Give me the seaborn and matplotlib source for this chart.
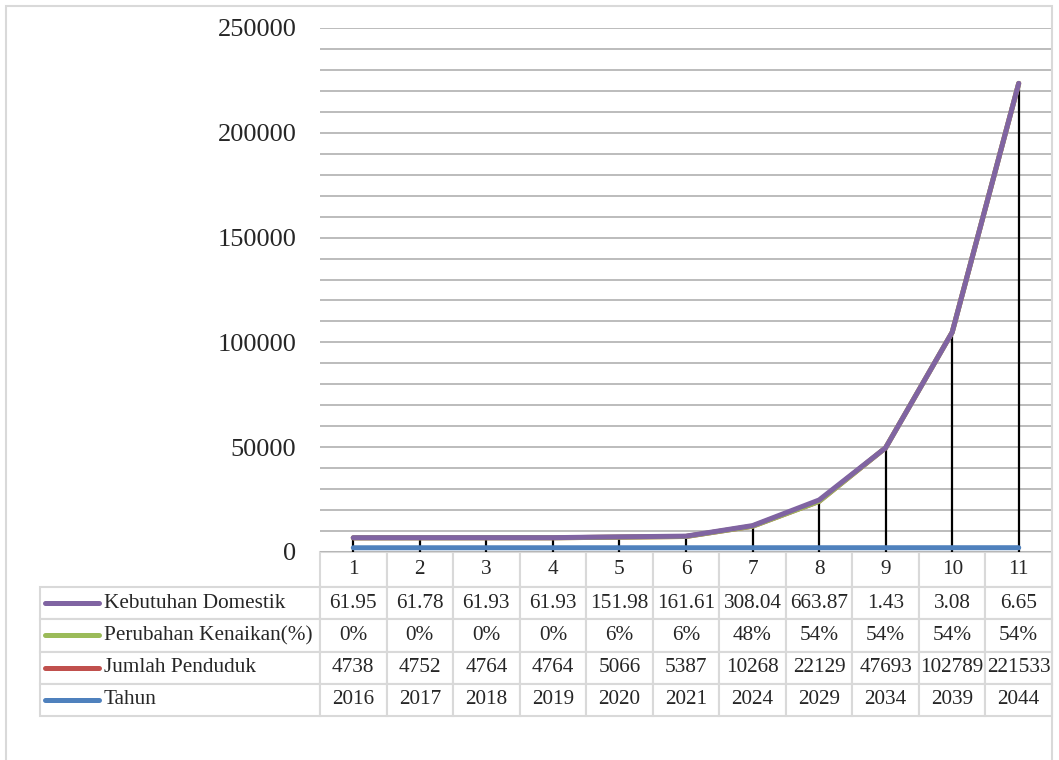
import numpy as np
import pandas as pd
import seaborn as sns
import matplotlib
matplotlib.use('Agg')
import matplotlib.pyplot as plt
from matplotlib.lines import Line2D
from matplotlib.patches import Rectangle

categories = [1, 2, 3, 4, 5, 6, 7, 8, 9, 10, 11]
tahun = [2016, 2017, 2018, 2019, 2020, 2021, 2024, 2029, 2034, 2039, 2044]
jumlah_penduduk = [4738, 4752, 4764, 4764, 5066, 5387, 10268, 22129, 47693, 102789, 221533]
perubahan = [0.0, 0.0, 0.0, 0.0, 0.06, 0.06, 0.48, 0.54, 0.54, 0.54, 0.54]
kebutuhan = [61.95, 61.78, 61.93, 61.93, 151.98, 161.61, 308.04, 663.87, 1.43, 3.08, 6.65]

perubahan_txt = ['0%', '0%', '0%', '0%', '6%', '6%', '48%', '54%', '54%', '54%', '54%']
kebutuhan_txt = ['61.95', '61.78', '61.93', '61.93', '151.98', '161.61', '308.04', '663.87', '1.43', '3.08', '6.65']

series_names = ['Tahun', 'Jumlah Penduduk', 'Perubahan Kenaikan(%)', 'Kebutuhan Domestik']
colors = {'Tahun': '#4F81BD', 'Jumlah Penduduk': '#C0504D',
          'Perubahan Kenaikan(%)': '#9BBB59', 'Kebutuhan Domestik': '#8064A2'}

sns.set_style('white')
plt.rcParams['font.family'] = ['Liberation Serif', 'DejaVu Serif']

# stacked line chart (like excel)
raw = np.array([tahun, jumlah_penduduk, perubahan, kebutuhan], dtype=float)
stacked = np.cumsum(raw, axis=0)
df = pd.DataFrame({
    'pos': categories * 4,
    'value': stacked.ravel(),
    'series': np.repeat(series_names, len(categories)),
})

fig = plt.figure(figsize=(10.59, 7.6), dpi=100)
ax = fig.add_axes([320 / 1059, 1 - 552 / 760, 732 / 1059, 524 / 760])

ax.set_ylim(0, 250000)
ax.set_xlim(0.5, 11.5)
ax.set_yticks(np.arange(0, 250001, 10000), minor=True)
ax.set_yticks(np.arange(0, 250001, 50000))
ax.set_yticklabels([str(v) for v in range(0, 250001, 50000)], fontsize=19)
ax.grid(axis='y', which='both', color='#b0b0b0', lw=1.2)
ax.set_axisbelow(True)
ax.set_xticks([])
ax.tick_params(axis='y', which='both', length=0, pad=17)
for s in ax.spines.values():
    s.set_visible(False)

ax.vlines(categories, 0, stacked[-1], color='black', lw=1.6, zorder=2)
sns.lineplot(data=df, x='pos', y='value', hue='series', hue_order=series_names,
             palette=colors, lw=3.6, legend=False, ax=ax, zorder=3)
ax.set_xlabel('')
ax.set_ylabel('')

# data table under the plot
row_labels = ['Kebutuhan Domestik', 'Perubahan Kenaikan(%)', 'Jumlah Penduduk', 'Tahun']
row_values = [kebutuhan_txt, perubahan_txt, [str(v) for v in jumlah_penduduk], [str(v) for v in tahun]]
cell_text = [[lab] + vals for lab, vals in zip(row_labels, row_values)]
col_labels = [''] + [str(c) for c in categories]

lab_w = 280 / 732
col_w = 1 / 11
tab_h = 164 / 524
head_h = 35 / 524
row_h = (tab_h - head_h) / 4
tbl = ax.table(cellText=cell_text, colLabels=col_labels,
               colWidths=[lab_w] + [col_w] * 11, cellLoc='center',
               bbox=[-lab_w, -tab_h, 1 + lab_w, tab_h])
tbl.auto_set_font_size(False)
tbl.set_fontsize(15.3)
for (r, c), cell in tbl.get_celld().items():
    cell.set_edgecolor('#d9d9d9')
    cell.set_linewidth(1.5)
    cell.set_height(head_h if r == 0 else row_h)
    if r == 0 and c == 0:
        cell.set_visible(False)
    if c == 0 and r > 0:
        cell.PAD = 64 / 280
        cell.get_text().set_ha('left')
        cell._loc = 'left'

for i, name in enumerate(row_labels):
    yc = -head_h - row_h * (i + 0.5)
    ax.add_line(Line2D([(45 - 320) / 732, (99 - 320) / 732], [yc, yc],
                       color=colors[name], lw=3.6, solid_capstyle='round',
                       transform=ax.transAxes, clip_on=False))

fig.patches.append(Rectangle((6 / 1059, -0.02), 1046 / 1059, 1.02 - 6 / 760,
                             transform=fig.transFigure, fill=False,
                             edgecolor='#d9d9d9', lw=1.5))

fig.savefig('out.png', dpi=100)
